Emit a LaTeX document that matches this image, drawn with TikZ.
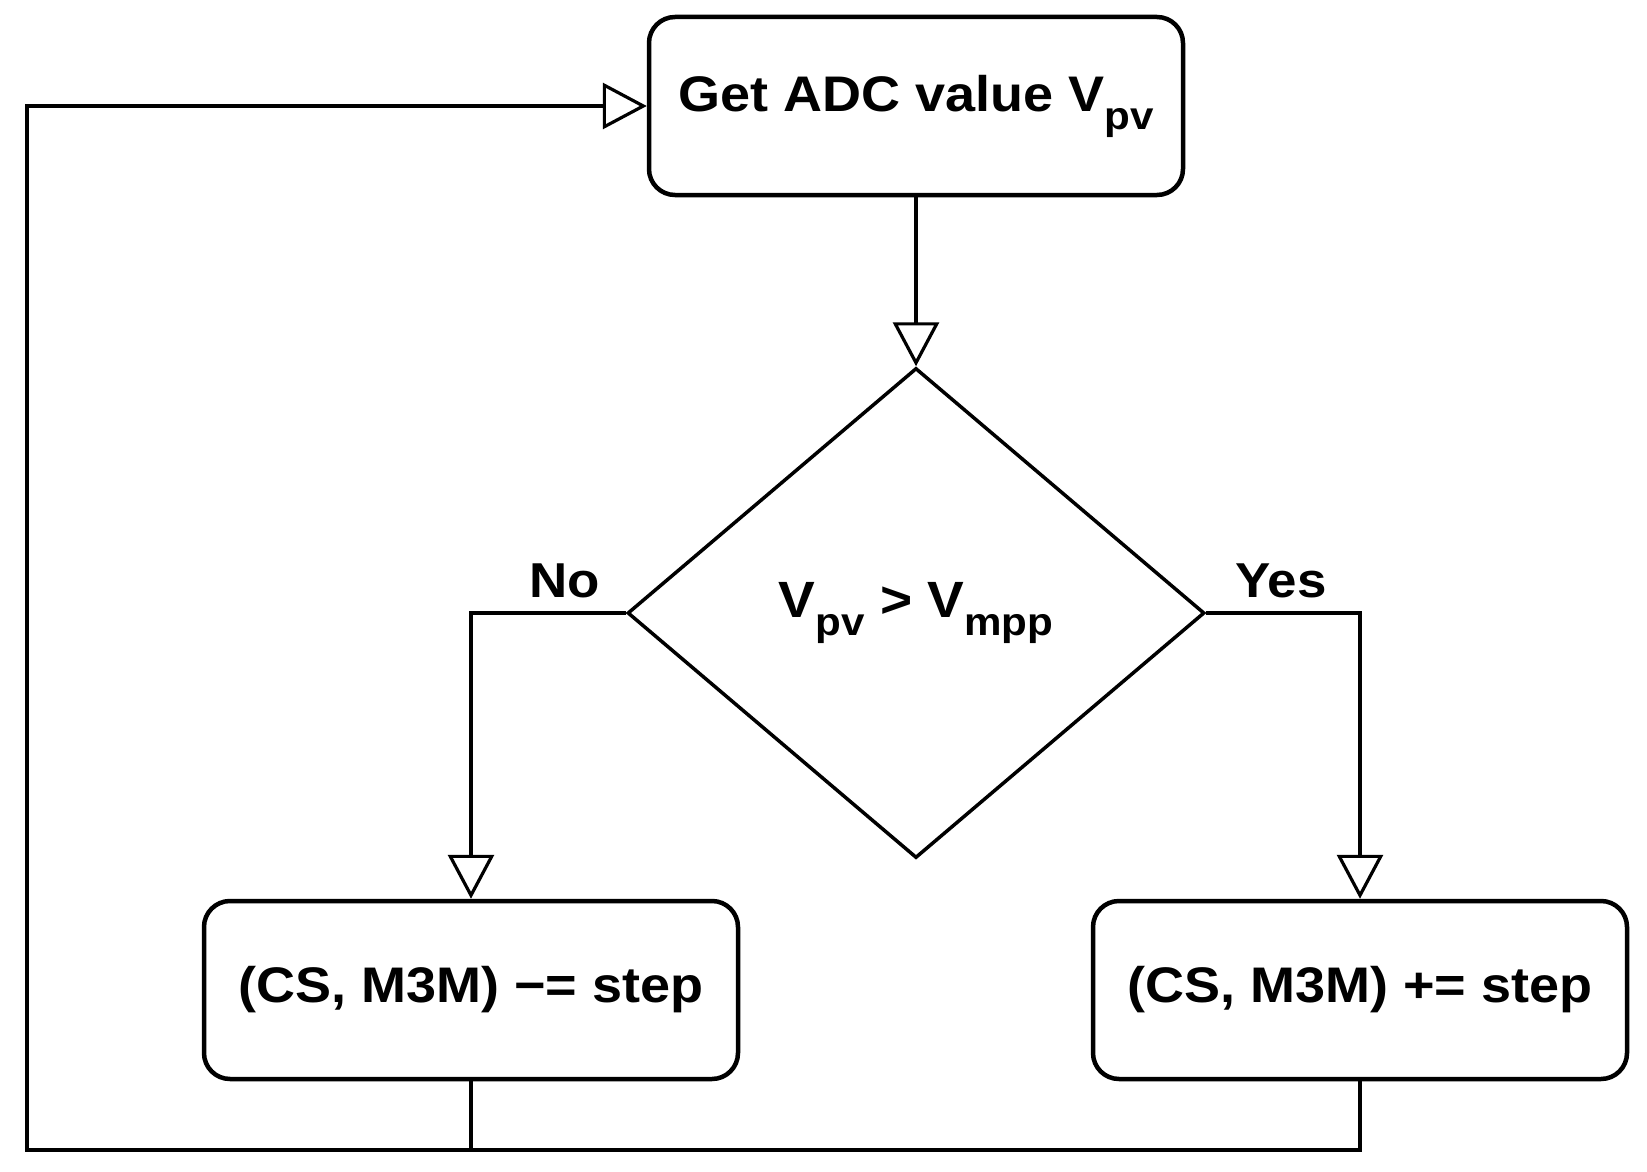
\documentclass[tikz,border=0pt]{standalone}
\usepackage{fontspec}
\setmainfont{Liberation Sans}[FakeStretch=1.08]
\usetikzlibrary{shapes.geometric,arrows.meta}
\newcommand\lowsub[1]{\raisebox{-0.36em}{\fontsize{39}{40}\selectfont #1}}
\begin{document}
\begin{tikzpicture}[x=1pt,y=-1pt,
  procbox/.style={draw=black,line width=4.5pt,rounded corners=26pt,minimum width=534pt,minimum height=178pt,inner sep=0pt,font=\fontsize{50}{56}\selectfont\bfseries},
  decbox/.style={draw=black,line width=3.5pt,shape=diamond,minimum width=577pt,minimum height=490pt,inner sep=0pt,font=\fontsize{51}{56}\selectfont\bfseries},
  flow/.style={line width=3.2pt,-{Triangle[open,length=44pt,width=46pt,line width=3.2pt]}},
  plain/.style={line width=3.2pt},
  lbl/.style={font=\fontsize{49}{50}\selectfont\bfseries,inner sep=0pt,anchor=base}]
\useasboundingbox (0,0) rectangle (1647,1172);
\node[procbox] (get) at (916,106) {\raisebox{-0.16em}{Get ADC value V\lowsub{pv}}};
\node[decbox] (dec) at (916,613) {\raisebox{0.2em}{V\lowsub{pv} > V\lowsub{mpp}}};
\node[procbox] (dec1) at (471,990) {(CS, M3M) −= step};
\node[procbox] (inc1) at (1360,990) {(CS, M3M) += step};
\coordinate (bl) at (27,1150);
\coordinate (tl) at (27,106);
\coordinate (bm) at (471,1150);
\coordinate (br) at (1360,1150);
\node[lbl] (no) at (565,597) {No};
\node[lbl] (yes) at (1281,597) {Yes};
\draw[flow] (get.south) -- (dec.north);
\draw[flow] (dec.west) -| (dec1.north);
\draw[flow] (dec.east) -| (inc1.north);
\draw[plain] (dec1.south) -- (bm);
\draw[flow] (inc1.south) -- (br) -- (bl) -- (tl) -- (get.west);
\end{tikzpicture}
\end{document}
